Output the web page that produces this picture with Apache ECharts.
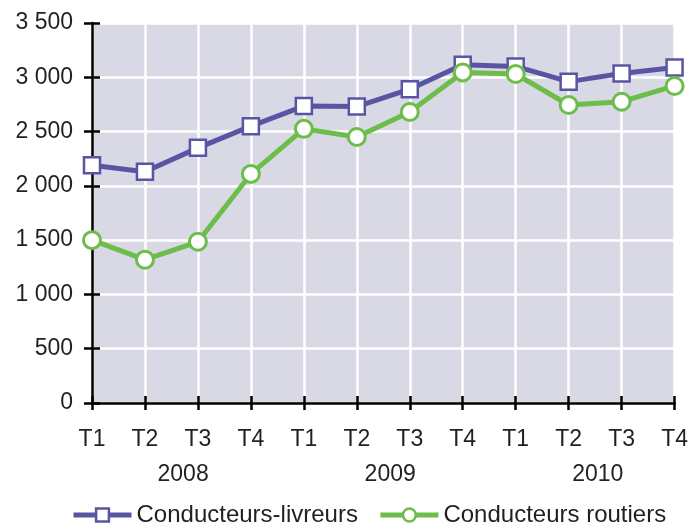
<!DOCTYPE html>
<html>
<head>
<meta charset="utf-8">
<script src="https://cdn.jsdelivr.net/npm/echarts@6/dist/echarts.min.js"></script>
<style>
  html, body { margin: 0; padding: 0; background: #fff; }
  #chart { width: 691px; height: 526px; }
</style>
</head>
<body>
<div id="chart"></div>
<script>
// trimestres 2008-2010
var quarters = ['T1', 'T2', 'T3', 'T4', 'T1', 'T2', 'T3', 'T4', 'T1', 'T2', 'T3', 'T4'];
var years = ['2008', '2009', '2010'];
var livreurs = [2190, 2130, 2350, 2550, 2735, 2730, 2890, 3115, 3100, 2960, 3035, 3090];
var routiers = [1500, 1320, 1485, 2110, 2525, 2450, 2680, 3045, 3030, 2745, 2775, 2920];
var yTicks = [0, 500, 1000, 1500, 2000, 2500, 3000, 3500];

var txt = '#231f20';
var font = 'Liberation Sans';

function frNum(v) {
  // 3500 -> "3 500"
  return String(v).replace(/\B(?=(\d{3})+(?!\d))/g, ' ');
}

var chart = echarts.init(document.getElementById('chart'));
chart.setOption({
  animation: false,
  textStyle: { fontFamily: font },
  grid: {
    left: 92, right: 14, top: 23, bottom: 123,
    show: true, backgroundColor: '#d9d9e5', borderWidth: 0
  },
  legend: {
    bottom: -6, left: 66,
    itemWidth: 58, itemHeight: 16, itemGap: 20,
    lineStyle: { width: 5 },
    itemStyle: { borderWidth: 2.5 },
    textStyle: { fontSize: 24, color: txt, fontFamily: font },
    data: ['Conducteurs-livreurs', 'Conducteurs routiers']
  },
  xAxis: [
    {
      type: 'category', data: quarters, boundaryGap: false,
      axisLine: { lineStyle: { color: '#000', width: 2.5 } },
      axisTick: { show: true, length: 7, lineStyle: { color: '#000', width: 2.5 } },
      axisLabel: { color: txt, fontSize: 23, margin: 25, interval: 0 },
      splitLine: { show: true, lineStyle: { color: '#fff', width: 2.5 } }
    },
    {
      // ticks vers l'intérieur
      type: 'category', data: quarters, boundaryGap: false, position: 'bottom',
      axisLine: { show: false },
      axisTick: { show: true, inside: true, length: 7, lineStyle: { color: '#000', width: 2.5 } },
      axisLabel: { show: false },
      splitLine: { show: false }
    },
    {
      // années
      type: 'value', min: 0, max: 11, position: 'bottom',
      axisLine: { show: false }, axisTick: { show: false }, splitLine: { show: false },
      axisLabel: {
        color: txt, fontSize: 23, margin: 60,
        customValues: [1.72, 5.63, 9.55],
        formatter: function (v) {
          return v < 4 ? years[0] : (v < 8 ? years[1] : years[2]);
        }
      }
    }
  ],
  yAxis: [
    {
      type: 'value', min: 0, max: 3500, interval: 500,
      axisLine: { show: true, lineStyle: { color: '#000', width: 2.5 } },
      axisTick: { show: true, length: 8, lineStyle: { color: '#000', width: 2.5 } },
      axisLabel: { color: txt, fontSize: 23, margin: 19, formatter: frNum },
      splitLine: { show: true, lineStyle: { color: '#fff', width: 2.5 } }
    },
    {
      type: 'value', min: 0, max: 3500, interval: 500, position: 'left',
      axisLine: { show: false },
      axisTick: { show: true, inside: true, length: 8, lineStyle: { color: '#000', width: 2.5 } },
      axisLabel: { show: false },
      splitLine: { show: false }
    }
  ],
  series: [
    {
      name: 'Conducteurs-livreurs', type: 'line', data: livreurs,
      symbol: 'rect', symbolSize: 16,
      lineStyle: { color: '#5a55a3', width: 5 },
      itemStyle: { color: '#fff', borderColor: '#5a55a3', borderWidth: 2.5 }
    },
    {
      name: 'Conducteurs routiers', type: 'line', data: routiers,
      symbol: 'circle', symbolSize: 17,
      lineStyle: { color: '#6cbd4a', width: 5 },
      itemStyle: { color: '#fff', borderColor: '#6cbd4a', borderWidth: 3 }
    }
  ]
});
</script>
</body>
</html>
